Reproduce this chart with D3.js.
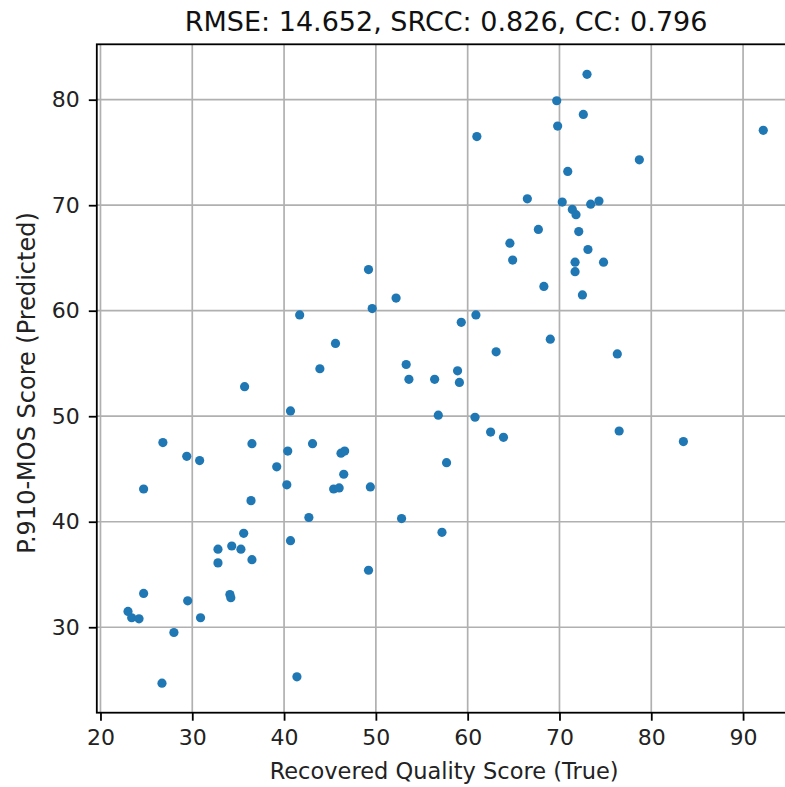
<!DOCTYPE html>
<html>
<head>
<meta charset="utf-8">
<script src="https://cdn.jsdelivr.net/npm/d3@7"></script>
<style>
  body { margin: 0; background: #fff; }
  svg { display: block; font-family: "DejaVu Sans", sans-serif; }
</style>
</head>
<body>
<div id="chart-container"></div>
<script>
// Recovered quality score (true) vs P.910-MOS score (predicted)
const trueScores = [
    49.2, 73.0, 69.7, 72.6, 69.8, 61.0, 92.2, 78.7, 70.9, 66.5,
    70.3, 73.4, 74.3, 71.4, 71.8, 67.7, 72.1, 64.6, 73.1, 64.9,
    71.7, 74.8, 71.7, 68.3, 72.5, 60.9, 59.3, 69.0, 63.1, 76.3,
    58.9, 56.4, 59.1, 56.8, 60.8, 62.5, 63.9, 76.5, 83.5, 57.7,
    52.2, 49.6, 41.7, 45.6, 43.9, 53.3, 53.6, 35.7, 40.7, 26.8,
    36.5, 43.1, 29.4, 30.8, 40.4, 46.2, 46.6, 39.2, 46.5, 40.3,
    45.4, 46.0, 49.4, 24.7, 36.4, 42.7, 52.8, 57.2, 35.6, 32.8,
    34.3, 35.3, 32.8, 36.5, 40.7, 49.2, 24.7, 29.5, 34.1, 34.2,
    23.0, 23.4, 24.2, 30.9, 28.0, 26.7, 41.4
];
const predictedScores = [
    63.9, 82.4, 79.9, 78.6, 77.5, 76.5, 77.1, 74.3, 73.2, 70.6,
    70.3, 70.1, 70.4, 69.6, 69.1, 67.7, 67.5, 66.4, 65.8, 64.8,
    64.6, 64.6, 63.7, 62.3, 61.5, 59.6, 58.9, 57.3, 56.1, 55.9,
    54.3, 53.5, 53.2, 50.1, 49.9, 48.5, 48.0, 48.6, 47.6, 45.6,
    61.2, 60.2, 59.6, 56.9, 54.5, 54.9, 53.5, 52.8, 50.5, 47.5,
    47.4, 47.4, 46.2, 45.8, 46.7, 46.5, 46.7, 45.2, 44.5, 43.5,
    43.1, 43.2, 43.3, 43.1, 42.0, 40.4, 40.3, 39.0, 38.9, 37.4,
    37.7, 37.4, 36.1, 36.4, 38.2, 35.4, 33.2, 32.5, 33.1, 32.8,
    31.5, 30.9, 30.8, 30.9, 29.5, 24.7, 25.3
];
const xTicks = [20, 30, 40, 50, 60, 70, 80, 90];
const yTicks = [30, 40, 50, 60, 70, 80];

const data = trueScores.map((t, i) => ({ t, p: predictedScores[i] }));

document.addEventListener("DOMContentLoaded", () => {
    const width = 785;
    const height = 787;
    const marginTop = 44.3;
    const marginLeft = 96.8;
    const plotBottom = 712.7;
    const plotRight = 795.4; // axes run past the right edge of the picture

    const x = d3.scaleLinear()
        .domain([19.6, 95.7])
        .range([marginLeft, plotRight]);

    const y = d3.scaleLinear()
        .domain([21.9, 85.25])
        .range([plotBottom, marginTop]);

    const svg = d3.select("#chart-container")
        .append("svg")
        .attr("width", width)
        .attr("height", height)
        .attr("viewBox", [0, 0, width, height]);

    // grid
    const grid = svg.append("g")
        .attr("stroke", "#b0b0b0")
        .attr("stroke-width", 1.7);
    grid.selectAll("line.gx")
        .data(xTicks)
        .join("line")
        .attr("class", "gx")
        .attr("x1", d => x(d)).attr("x2", d => x(d))
        .attr("y1", marginTop).attr("y2", plotBottom);
    grid.selectAll("line.gy")
        .data(yTicks)
        .join("line")
        .attr("class", "gy")
        .attr("x1", marginLeft).attr("x2", plotRight)
        .attr("y1", d => y(d)).attr("y2", d => y(d));

    // points
    svg.append("g")
        .attr("fill", "#1f77b4")
        .selectAll("circle")
        .data(data)
        .join("circle")
        .attr("cx", d => x(d.t))
        .attr("cy", d => y(d.p))
        .attr("r", 4.6);

    // frame
    svg.append("rect")
        .attr("x", marginLeft)
        .attr("y", marginTop)
        .attr("width", plotRight - marginLeft)
        .attr("height", plotBottom - marginTop)
        .attr("fill", "none")
        .attr("stroke", "#000")
        .attr("stroke-width", 1.8);

    // axes
    const xAxis = svg.append("g")
        .attr("transform", `translate(0,${plotBottom})`)
        .call(d3.axisBottom(x).tickValues(xTicks).tickSize(8).tickPadding(9).tickFormat(d3.format("d")));
    const yAxis = svg.append("g")
        .attr("transform", `translate(${marginLeft},0)`)
        .call(d3.axisLeft(y).tickValues(yTicks).tickSize(8).tickPadding(9).tickFormat(d3.format("d")));

    [xAxis, yAxis].forEach(g => {
        g.select(".domain").remove();
        g.selectAll(".tick line").attr("stroke", "#000").attr("stroke-width", 1.8);
        g.selectAll(".tick text")
            .attr("fill", "#222")
            .attr("font-size", "22px")
            .attr("font-family", "DejaVu Sans");
    });

    // axis labels
    svg.append("text")
        .attr("x", (marginLeft + plotRight) / 2 - 2)
        .attr("y", 779)
        .attr("text-anchor", "middle")
        .attr("font-size", "22.5px")
        .attr("fill", "#222")
        .text("Recovered Quality Score (True)");

    svg.append("text")
        .attr("transform", "translate(35,383) rotate(-90)")
        .attr("text-anchor", "middle")
        .attr("font-size", "24px")
        .attr("fill", "#222")
        .text("P.910-MOS Score (Predicted)");

    // title
    svg.append("text")
        .attr("x", (marginLeft + plotRight) / 2)
        .attr("y", 31)
        .attr("text-anchor", "middle")
        .attr("font-size", "27px")
        .attr("fill", "#111")
        .text("RMSE: 14.652, SRCC: 0.826, CC: 0.796");
});
</script>
</body>
</html>
